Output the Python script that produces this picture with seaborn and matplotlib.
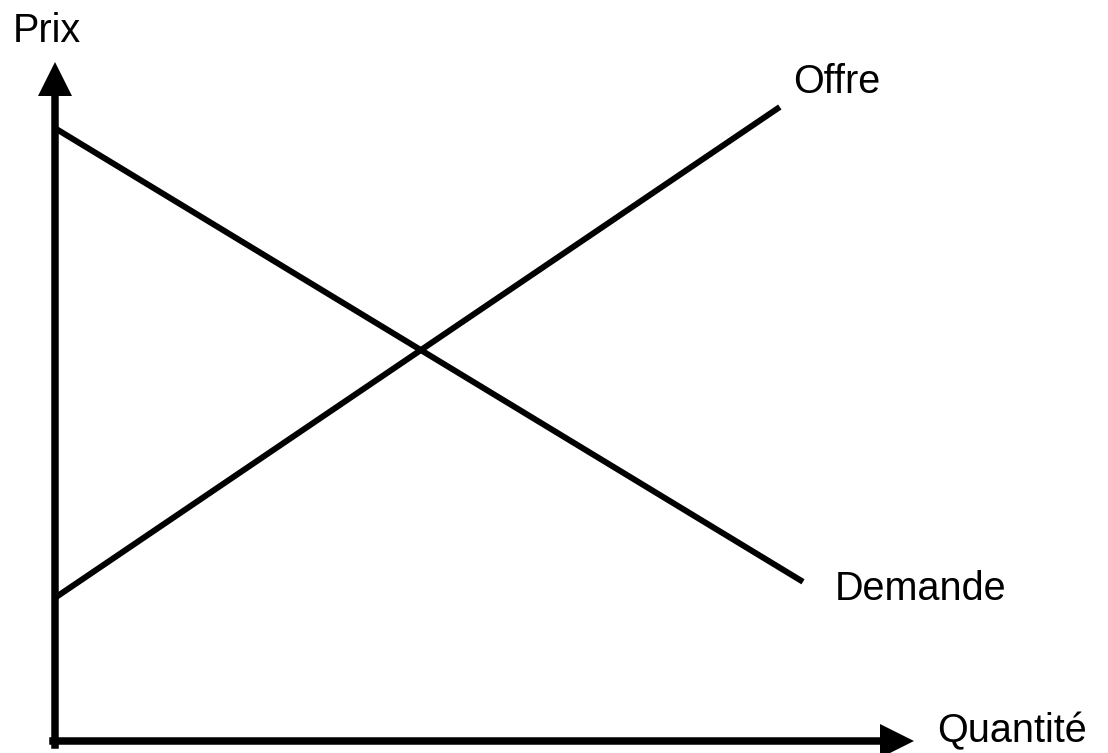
import pandas as pd
import seaborn as sns
import matplotlib.pyplot as plt

sns.set_theme(style='white')
plt.rcParams['font.family'] = ['Liberation Sans', 'DejaVu Sans']

# supply / demand curves (quantity, price) in arbitrary units
demand_q = [0.0, 9.35]
demand_p = [7.66, 1.99]
offer_q = [0.0, 9.06]
offer_p = [1.79, 7.925]

axis_labels = ['Prix', 'Quantité']
curve_labels = ['Offre', 'Demande']

df = pd.concat([
    pd.DataFrame({'q': demand_q, 'p': demand_p, 'courbe': 'Demande'}),
    pd.DataFrame({'q': offer_q, 'p': offer_p, 'courbe': 'Offre'}),
])

fig = plt.figure(figsize=(11.08, 7.53), dpi=100)
ax = fig.add_axes([0, 0, 1, 1])

sns.lineplot(data=df, x='q', y='p', units='courbe', estimator=None,
             color='black', linewidth=4.3, solid_capstyle='butt',
             legend=False, ax=ax)

# axes with arrow heads
ax.plot([0, 0], [-0.05, 8.3], color='black', lw=5.4, solid_capstyle='projecting')
ax.plot([0], [8.28], marker='^', ms=24.5, color='black', mew=0)
ax.plot([-0.02, 10.5], [0, 0], color='black', lw=5.4, solid_capstyle='projecting')
ax.plot([10.52], [0], marker='>', ms=24.5, color='black', mew=0)

fs = 28.5
ax.text(-0.525, 8.74, axis_labels[0], fontsize=fs, va='baseline', ha='left', color='black')
ax.text(11.025, -0.02, axis_labels[1], fontsize=fs, va='baseline', ha='left', color='black')
ax.text(9.225, 8.10, curve_labels[0], fontsize=fs, va='baseline', ha='left', color='black')
ax.text(9.75, 1.76, curve_labels[1], fontsize=fs, va='baseline', ha='left', color='black')

ax.set_xlim(-55 / 80, (1108 - 55) / 80)
ax.set_ylim(-(753 - 741) / 80, 741 / 80)
ax.axis('off')

fig.savefig('out.png', dpi=100)
plt.close()
